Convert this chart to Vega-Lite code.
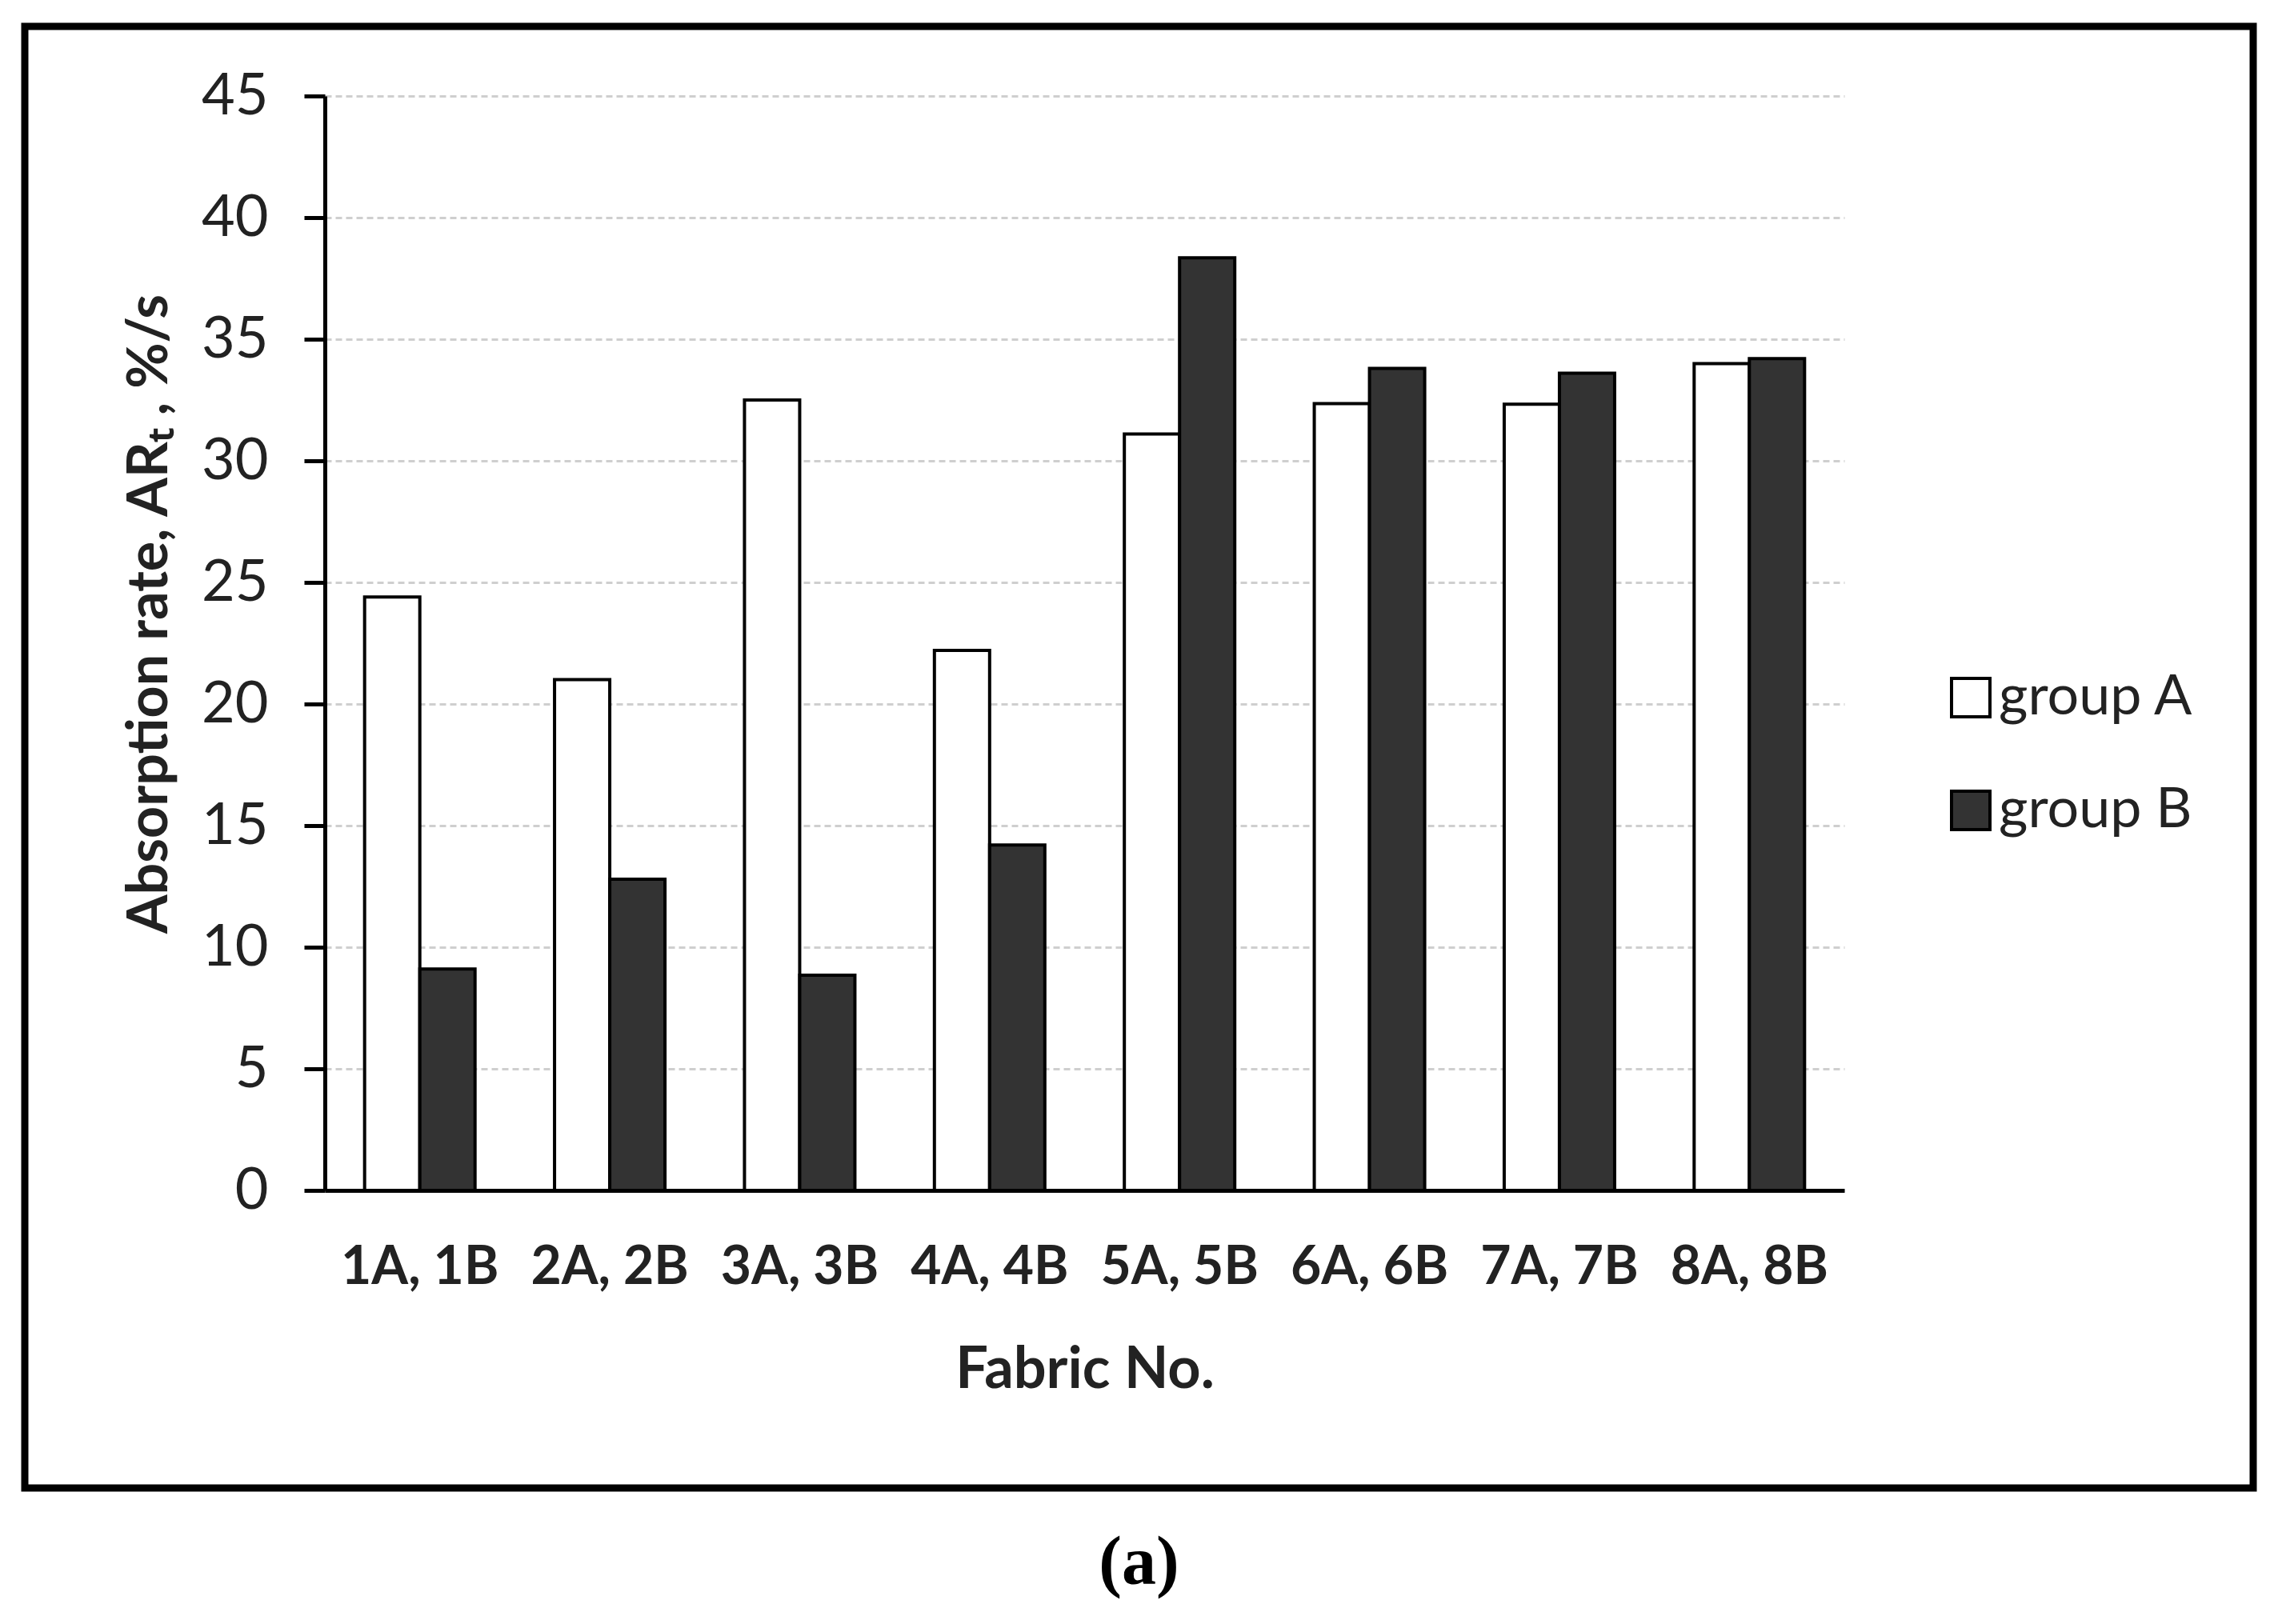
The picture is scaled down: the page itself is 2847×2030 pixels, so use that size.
{
  "$schema": "https://vega.github.io/schema/vega-lite/v6.json",
  "width": 2785,
  "height": 1827,
  "autosize": {"type": "none"},
  "padding": {"left": 31, "top": 33, "right": 31, "bottom": 170},
  "background": "white",
  "title": {"text": "(a)", "orient": "bottom", "anchor": "middle", "font": "Liberation Serif", "fontSize": 86, "fontWeight": "bold", "color": "black", "offset": 52, "baseline": "top"},
  "data": {"values": [
    {"fabric": "1A, 1B", "group": "group A", "value": 24.4},
    {"fabric": "1A, 1B", "group": "group B", "value": 9.1},
    {"fabric": "2A, 2B", "group": "group A", "value": 21.0},
    {"fabric": "2A, 2B", "group": "group B", "value": 12.8},
    {"fabric": "3A, 3B", "group": "group A", "value": 32.5},
    {"fabric": "3A, 3B", "group": "group B", "value": 8.85},
    {"fabric": "4A, 4B", "group": "group A", "value": 22.2},
    {"fabric": "4A, 4B", "group": "group B", "value": 14.2},
    {"fabric": "5A, 5B", "group": "group A", "value": 31.1},
    {"fabric": "5A, 5B", "group": "group B", "value": 38.35},
    {"fabric": "6A, 6B", "group": "group A", "value": 32.35},
    {"fabric": "6A, 6B", "group": "group B", "value": 33.8},
    {"fabric": "7A, 7B", "group": "group A", "value": 32.33},
    {"fabric": "7A, 7B", "group": "group B", "value": 33.6},
    {"fabric": "8A, 8B", "group": "group A", "value": 34.0},
    {"fabric": "8A, 8B", "group": "group B", "value": 34.2}
  ]},
  "mark": {"type": "bar", "stroke": "black", "strokeWidth": 4},
  "encoding": {
    "x": {
      "field": "fabric", "type": "nominal", "sort": null,
      "scale": {"range": [375, 2274], "paddingInner": 0, "paddingOuter": 0},
      "axis": {
        "title": "Fabric No.", "orient": "bottom", "offset": -372, "ticks": false, "labelAngle": 0, "labelLimit": 0,
        "labelFont": "Lato", "labelFontSize": 66, "labelFontWeight": "bold", "labelColor": "#222222", "labelPadding": 64,
        "domainColor": "black", "domainWidth": 5, "grid": false,
        "titleFont": "Lato", "titleFontSize": 72, "titleFontWeight": "bold", "titleColor": "#222222", "titlePadding": 60
      }
    },
    "xOffset": {"field": "group", "type": "nominal", "scale": {"paddingInner": 0, "paddingOuter": 0.72}},
    "y": {
      "field": "value", "type": "quantitative",
      "scale": {"domain": [0, 45], "range": [1455, 87], "nice": false, "zero": true},
      "axis": {
        "title": "Absorption rate, ARₜ , %/s", "offset": -375,
        "values": [0, 5, 10, 15, 20, 25, 30, 35, 40, 45],
        "tickSize": 26, "tickWidth": 5, "tickColor": "black",
        "domainColor": "black", "domainWidth": 5,
        "labelFont": "Lato", "labelFontSize": 72, "labelColor": "#222222", "labelPadding": 45,
        "grid": true, "gridColor": "#cfcfcf", "gridWidth": 3, "gridDash": [8, 5],
        "titleFont": "Lato", "titleFontSize": 70, "titleFontWeight": "bold", "titleColor": "#222222", "titlePadding": 28, "titleY": 734
      }
    },
    "color": {
      "field": "group", "type": "nominal",
      "scale": {"range": ["#ffffff", "#333333"]},
      "legend": {
        "title": null, "orient": "none", "legendX": 2397, "legendY": 804,
        "symbolType": "square", "symbolSize": 2304, "symbolStrokeColor": "black", "symbolStrokeWidth": 4,
        "labelFont": "Lato", "labelFontSize": 70, "labelColor": "#222222", "labelOffset": 0, "labelLimit": 0, "rowPadding": 71
      }
    }
  },
  "config": {"view": {"stroke": "black", "strokeWidth": 9}}
}
